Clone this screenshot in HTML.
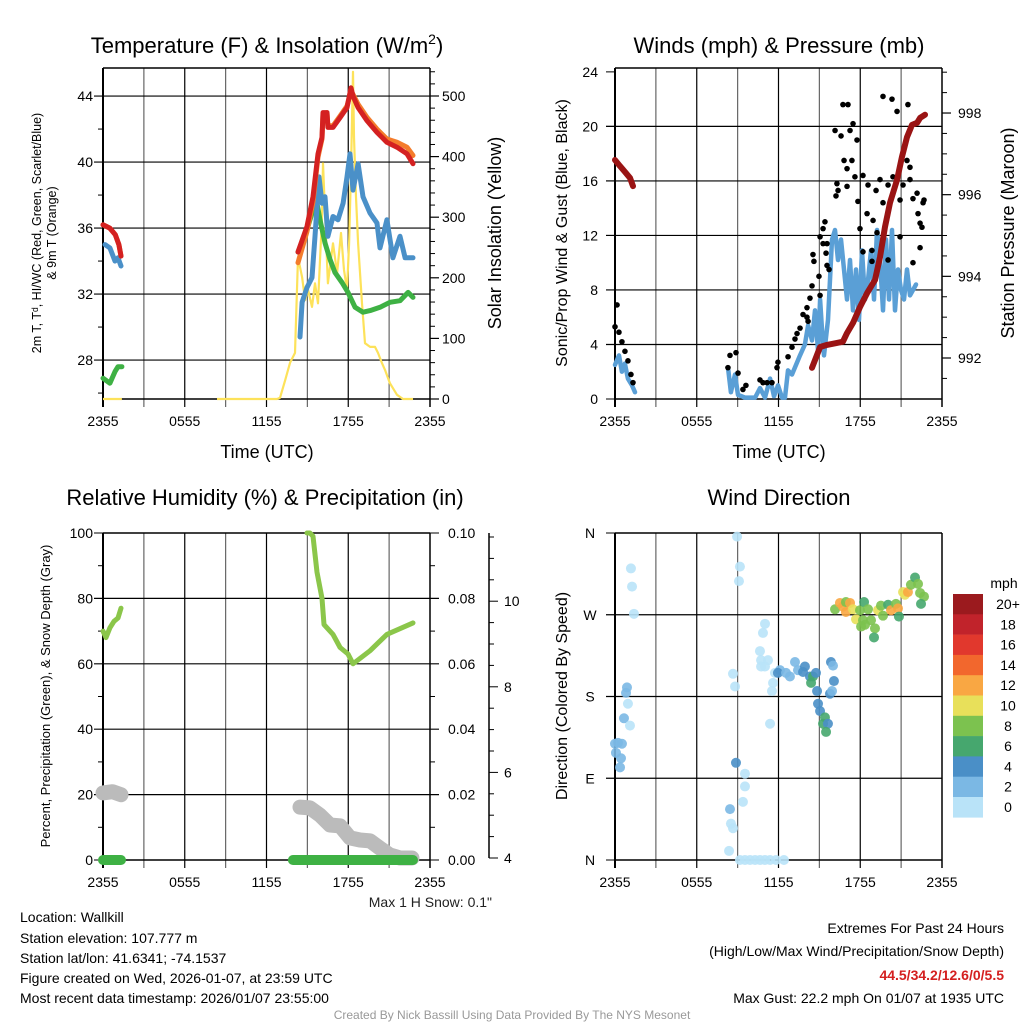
<!DOCTYPE html>
<html><head><meta charset="utf-8"><style>
html,body{margin:0;padding:0;background:#fff;}
svg{display:block;font-family:"Liberation Sans",Arial,sans-serif;}
</style></head><body>
<svg id="chart" width="1024" height="1024" viewBox="0 0 1024 1024" xmlns="http://www.w3.org/2000/svg">
<rect width="1024" height="1024" fill="#fff"/>
<g id="g1"></g>
<g id="g2"></g>
<g id="g3"></g>
<g id="g4"></g>
<g id="gt" font-size="14" fill="#000">
<text x="20" y="922">Location: Wallkill</text>
<text x="20" y="943">Station elevation: 107.777 m</text>
<text x="20" y="963">Station lat/lon: 41.6341; -74.1537</text>
<text x="20" y="983">Figure created on Wed, 2026-01-07, at 23:59 UTC</text>
<text x="20" y="1003">Most recent data timestamp: 2026/01/07 23:55:00</text>
<text x="1004" y="933" text-anchor="end">Extremes For Past 24 Hours</text>
<text x="1004" y="956" text-anchor="end">(High/Low/Max Wind/Precipitation/Snow Depth)</text>
<text x="1004" y="980" text-anchor="end" fill="#d42020" font-weight="bold">44.5/34.2/12.6/0/5.5</text>
<text x="1004" y="1003" text-anchor="end">Max Gust: 22.2 mph On 01/07 at 1935 UTC</text>
<text x="512" y="1019" text-anchor="middle" font-size="12" fill="#999">Created By Nick Bassill Using Data Provided By The NYS Mesonet</text>
<text x="492" y="907" text-anchor="end" font-size="14" fill="#222">Max 1 H Snow: 0.1"</text>
</g>
</svg>
<script>
// ---------- data (hours since 23:55 previous day) ----------
const xTickLabels = ["2355","0555","1155","1755","2355"];
const solarT = [0,1.39,null,8.37,12.77,12.99,13.36,13.73,14.09,14.31,14.61,14.83,15.05,15.34,15.56,15.78,16.07,16.15,16.37,16.51,16.88,17.18,17.47,17.69,17.91,18.06,18.2,18.35,18.42,18.57,18.72,19.01,19.23,19.6,19.96,20.18,20.48,20.7,21.06,21.58,22.02,22.75];
const solarV = [0,0,null,0,0,2,30,60,76,234,201,163,180,152,191,158,300,389,267,191,257,208,274,213,180,257,378,540,432,333,257,158,92,86,86,76,59,48,26,7,0,0];
const tempT = [0,0.5,0.9,1.17,1.32,null,14.31,14.97,15.41,15.78,16.07,16.15,16.44,16.51,16.88,17.4,17.91,18.2,18.35,18.72,19.38,20.11,20.84,21.58,22.31,22.75];
const tempV = [36.2,36.0,35.6,35.0,34.3,null,34.55,36.1,37.9,40.5,41.5,43.0,43.0,42.1,42.1,42.7,43.3,44.5,44.0,43.3,42.5,41.8,41.2,40.9,40.5,39.9];
const temp9V = [36.2,36.0,35.6,35.0,34.3,null,33.9,35.8,37.6,40.3,41.4,42.9,43.0,42.2,42.2,42.8,43.4,44.3,44.1,43.5,42.7,42.0,41.4,41.2,40.9,40.4];
const dewT = [0,0.51,0.88,1.1,1.39,null,14.31,14.97,15.41,15.71,15.93,16.29,16.66,17.03,17.54,17.98,18.5,19.08,19.6,20.33,21.06,21.8,22.39,22.75];
const dewV = [26.9,26.6,27.3,27.6,27.6,null,34.55,35.9,37.1,37.5,36.5,35.1,34.1,33.3,32.7,32.1,31.2,30.9,31.0,31.2,31.5,31.6,32.1,31.8];
const wcT = [0.15,0.51,0.88,1.1,1.32,null,14.46,14.61,14.97,15.34,15.56,15.85,16.07,16.29,16.51,16.88,17.25,17.62,17.91,18.13,18.35,18.72,19.08,19.6,20.11,20.33,20.84,21.28,21.8,22.17,22.75];
const wcV = [35.0,34.8,34.0,34.2,33.7,null,29.4,31.5,32.4,33.0,35.5,39.1,37.5,37.9,35.5,36.7,36.5,37.5,39.1,40.5,38.3,39.9,37.9,36.9,36.3,34.8,36.5,34.2,35.5,34.2,34.2];
const tempTicks = [28,32,36,40,44];
const solarTicks = [0,100,200,300,400,500];

const windT = [0,0.29,0.51,0.73,0.95,1.25,1.47,null,8.29,8.51,8.81,9.03,9.54,10.28,10.64,11.01,11.38,11.67,11.96,12.26,12.48,12.7,12.99,13.58,13.94,14.17,14.46,14.68,14.9,15.05,15.19,15.34,15.63,15.93,16.15,16.37,16.59,16.81,17.03,17.25,17.47,17.69,17.91,18.13,18.35,18.57,18.79,19.01,19.23,19.45,19.67,19.89,20.11,20.33,20.55,20.77,20.99,21.21,21.43,21.65,21.87,22.09];
const windV = [2.5,3.2,2.0,2.6,1.5,1.0,0.5,null,2.3,0.5,1.8,0.3,0.1,0.1,0.8,0.1,1.5,0.2,1.0,0.1,0.1,2.1,1.8,3.2,4.0,5.4,4.3,6.5,3.6,7.3,5.1,3.2,5.8,11.7,12.4,10.2,11.7,9.5,7.3,10.2,6.5,9.5,5.8,10.9,7.3,8.7,10.9,7.3,12.4,10.2,6.5,11.7,7.3,12.4,6.5,9.5,8.0,7.3,9.5,7.6,8.0,8.4];
const gustT = [0,0.15,0.29,0.51,0.73,0.95,1.17,1.32,8.44,8.88,8.29,9.03,9.39,9.61,10.64,10.86,11.16,11.52,11.89,11.96,12.7,12.99,13.21,13.36,13.58,13.8,14.09,14.09,14.17,14.31,14.46,14.53,14.6,14.97,15.05,15.05,15.27,15.27,15.41,15.49,15.56,15.56,15.71,16.15,16.22,16.29,16.37,16.59,16.73,16.81,17.03,17.03,17.1,17.25,17.39,17.47,17.61,17.76,17.83,17.98,18.2,18.2,18.5,18.57,18.86,18.86,18.94,19.16,19.23,19.45,19.67,19.67,20.04,20.04,20.33,20.4,20.7,20.92,20.92,21.14,21.43,21.5,21.65,21.65,21.87,21.87,22.17,22.24,22.39,22.39,22.53,22.61,22.68];
const gustV = [5.3,6.9,4.9,4.2,3.5,2.8,1.8,1.2,3.2,3.4,2.3,1.9,0.7,1.0,1.4,1.2,1.2,1.2,2.3,2.7,3.1,3.8,4.4,4.8,5.2,6.2,6.7,6.0,5.7,7.4,8.3,10.6,10.1,9.0,7.6,11.9,12.5,11.4,13.0,10.7,11.4,9.8,9.5,19.7,14.9,15.8,15.3,19.3,21.6,17.5,16.9,15.6,21.6,19.7,17.5,20.2,16.3,19.0,14.5,12.5,16.4,10.8,13.6,15.7,10.9,10.1,13.1,15.3,12.2,16.1,22.2,14.4,15.7,10.2,22.0,16.3,21.1,14.6,11.9,15.7,17.5,21.6,16.1,17.0,14.7,10.0,15.1,13.6,12.9,11.1,12.6,14.4,14.6];
const presT = [0,0.37,0.73,1.1,1.32,null,14.46,15.05,15.56,16.29,16.73,17.03,17.47,17.98,18.5,19.08,19.45,19.82,20.18,20.7,21.06,21.43,21.8,22.17,22.39,22.75];
const presV = [996.85,996.7,996.56,996.41,996.21,null,991.76,992.27,992.32,992.37,992.4,992.61,992.86,993.25,993.59,993.91,994.47,995.21,995.8,996.36,996.92,997.41,997.71,997.76,997.88,997.96];
const windTicks = [0,4,8,12,16,20,24];
const presTicks = [992,994,996,998];

const rhT = [0,0.22,0.51,0.81,1.1,1.32,null,14.97,15.19,15.41,15.71,16.07,16.22,16.88,17.4,17.98,18.35,19.6,20.84,22.75];
const rhV = [70,68,71,73,74,77,null,100,100,99,88,80,72,69,65,63,60,64,69,72.5];
const snowT = [0,0.7,1.32,null,14.46,15.19,15.93,16.66,17.4,18.13,18.86,19.6,20.33,21.06,21.8,22.68];
const snowV = [5.52,5.55,5.48,null,5.19,5.17,5.0,4.77,4.75,4.47,4.42,4.4,4.23,4.07,4.0,4.0];
const precipT = [0,1.32,null,13.94,22.75];
const precipV = [0,0,null,0,0];
const rhTicks = [0,20,40,60,80,100];
const precipTicks = ["0.00","0.02","0.04","0.06","0.08","0.10"];
const snowTicks = [4,6,8,10];

const dirT = [1.17,1.25,1.39,0.88,0.81,0.95,0.66,1.1,0,0.22,0.51,0.07,0.44,0.37,8.96,9.17,9.1,8.66,8.81,8.88,9.54,9.54,9.39,8.44,8.51,8.66,8.37,9.17,9.54,9.91,10.28,10.64,11.01,11.38,11.82,12.4,11.01,10.86,10.64,10.72,11.23,11.01,10.72,11.74,11.6,11.52,11.38,12.11,11.96,12.55,12.84,13.21,13.43,13.94,13.8,14.31,14.53,14.39,14.75,14.83,15.85,16,16.07,15.78,15.93,14.9,15.05,15.41,15.27,15.63,15.49,16.15,16.51,16.73,16.95,17.25,16.95,17.47,17.69,17.98,18.28,18.2,18.57,18.35,19.08,19.01,18.79,19.3,19.52,19.67,20.04,20.26,20.62,20.77,20.84,21.14,21.28,21.5,21.72,22.02,22.24,22.39,22.68,22.46,18.06];
const dirV = [321,301,271,190,184,172,156,148,128,129,128,118,112,102,356,323,307,205,191,107,95,81,64,56,40,35,10,0,0,0,0,0,0,0,0,0,260,250,230,220,220,213,213,206,195,186,150,209,206,206,202,218,209,213,207,202,202,195,206,186,218,214,197,183,186,172,164,157,150,150,141,276,283,279,284,283,273,276,265,275,284,264,276,259,255,245,264,275,280,269,281,275,282,277,268,295,292,295,303,311,304,294,290,282,257];
const dirS = [0,0,0,2,2,0,2,0,2,2,2,2,2,2,0,0,0,0,0,4,0,0,0,2,0,0,0,0,0,0,0,0,0,0,0,0,0,0,0,0,0,0,0,0,0,0,0,2,4,2,2,2,2,4,4,4,6,6,4,4,4,2,4,4,2,4,4,6,6,4,6,8,12,12,8,12,12,10,10,8,6,8,8,8,8,6,8,10,8,8,6,12,8,12,6,10,10,12,8,6,8,8,8,6,8];
const dirTicks = ["N","E","S","W","N"];
const cbLabels = ["20+","18","16","14","12","10","8","6","4","2","0"];
const cbColors = ["#9b1a1e","#c1232b","#e1382d","#f2672d","#f9a743","#e8e05a","#7cc24f","#46a76e","#4a8fc7","#7bb8e4","#b9e3f8"];

// ---------- helpers ----------
const NS = "http://www.w3.org/2000/svg";
function mk(parent, tag, attrs, name) {
  const el = document.createElementNS(NS, tag);
  for (const k in attrs) el.setAttribute(k, attrs[k]);
  
  
  parent.appendChild(el);
  return el;
}
function txt(parent, x, y, s, size, anchor, name, extra) {
  const t = mk(parent, 'text', Object.assign({x: x, y: y, 'font-size': size, 'text-anchor': anchor || 'start'}, extra || {}), name);
  t.textContent = s;
  return t;
}
const PXH = 327 / 24;
function pathOf(ts, vs, fx, fy) {
  let d = '', pen = false;
  for (let i = 0; i < ts.length; i++) {
    if (ts[i] === null || vs[i] === null) { pen = false; continue; }
    d += (pen ? 'L' : 'M') + fx(ts[i]).toFixed(1) + ',' + fy(vs[i]).toFixed(1);
    pen = true;
  }
  return d;
}
function frame(g, L, R, T, B) {
  for (let h = 3; h < 24; h += 3) {
    const x = L + h * PXH;
    mk(g, 'line', {x1: x, x2: x, y1: T, y2: B + 8, stroke: h % 6 === 0 ? '#000' : '#666', 'stroke-width': 1.2}, 'x-grid-line');
  }
  mk(g, 'line', {x1: L, x2: L, y1: T, y2: B + 8, stroke: '#000', 'stroke-width': 2}, 'left-axis');
  mk(g, 'line', {x1: R, x2: R, y1: T, y2: B + 8, stroke: '#000', 'stroke-width': 1.5}, 'right-axis');
  mk(g, 'line', {x1: L, x2: R, y1: B, y2: B, stroke: '#000', 'stroke-width': 1.5}, 'bottom-axis');
  mk(g, 'line', {x1: L, x2: R, y1: T, y2: T, stroke: '#000', 'stroke-width': 1.5}, 'top-axis');
  xTickLabels.forEach((s, i) => {
    txt(g, L + i * 6 * PXH, B + 27, s, 14, 'middle', 'x-tick-label');
  });
}
function hgrid(g, L, R, y, ext) {
  mk(g, 'line', {x1: L - 9, x2: R + (ext || 0), y1: y, y2: y, stroke: '#000', 'stroke-width': 1.2}, 'y-grid-line');
}
function rotLabel(g, x, y, s, size, name) {
  txt(g, x, y, s, size, 'middle', name, {transform: 'rotate(-90 ' + x + ' ' + y + ')'});
}

// ---------- Panel 1 ----------
(function () {
  const g = document.getElementById('g1');
  const L = 103, R = 430, T = 68, B = 399;
  const X = h => L + h * PXH;
  const YT = v => B - (v - 25.64) * 16.5;
  const YS = v => B - v * 0.606;
  frame(g, L, R, T, B);
  tempTicks.forEach(v => { hgrid(g, L, R, YT(v)); txt(g, 93, YT(v) + 5, String(v), 14, 'end', 'temp-tick-label'); });
  for (let v = 26; v <= 45; v += 2) if (v % 4) mk(g, 'line', {x1: L - 5, x2: L, y1: YT(v), y2: YT(v), stroke: '#000'}, 'temp-minor-tick');
  solarTicks.forEach(v => { mk(g, 'line', {x1: R, x2: R + 9, y1: YS(v), y2: YS(v), stroke: '#000', 'stroke-width': 1.2}, 'solar-tick'); txt(g, 442, YS(v) + 5, String(v), 14, 'start', 'solar-tick-label'); });
  for (let v = 20; v <= 540; v += 20) if (v % 100) mk(g, 'line', {x1: R, x2: R + 5, y1: YS(v), y2: YS(v), stroke: '#000'}, 'solar-minor-tick');
  mk(g, 'path', {d: pathOf(solarT, solarV, X, YS), fill: 'none', stroke: '#fde25a', 'stroke-width': 2.2, 'stroke-linejoin': 'round'}, 'solar-line');
  mk(g, 'path', {d: pathOf(dewT, dewV, X, YT), fill: 'none', stroke: '#3eb144', 'stroke-width': 5, 'stroke-linejoin': 'round', 'stroke-linecap': 'round'}, 'dewpoint-line');
  mk(g, 'path', {d: pathOf(wcT, wcV, X, YT), fill: 'none', stroke: '#4a90c8', 'stroke-width': 5, 'stroke-linejoin': 'round', 'stroke-linecap': 'round'}, 'windchill-line');
  mk(g, 'path', {d: pathOf(tempT, temp9V, X, YT), fill: 'none', stroke: '#f47c2c', 'stroke-width': 5, 'stroke-linejoin': 'round', 'stroke-linecap': 'round'}, 'temp-9m-line');
  mk(g, 'path', {d: pathOf(tempT, tempV, X, YT), fill: 'none', stroke: '#d42121', 'stroke-width': 5, 'stroke-linejoin': 'round', 'stroke-linecap': 'round'}, 'temp-2m-line');
  txt(g, 267, 53, 'Temperature (F) & Insolation (W/m', 22, 'middle', 'chart-title').innerHTML = 'Temperature (F) &amp; Insolation (W/m<tspan font-size="14" dy="-9">2</tspan><tspan dy="9">)</tspan>';
  txt(g, 267, 458, 'Time (UTC)', 18, 'middle', 'x-axis-title');
  rotLabel(g, 41, 233, '2m T, T\u1d48, HI/WC (Red, Green, Scarlet/Blue)', 12.5, 'y-axis-title-left');
  rotLabel(g, 56, 233, '& 9m T (Orange)', 12.5, 'y-axis-title-left-2');
  rotLabel(g, 501, 233, 'Solar Insolation (Yellow)', 18, 'y-axis-title-right');
})();

// ---------- Panel 2 ----------
(function () {
  const g = document.getElementById('g2');
  const L = 615, R = 942, T = 68, B = 399;
  const X = h => L + h * PXH;
  const YW = v => B - v * 13.63;
  const YP = v => 358 - (v - 992) * 40.83;
  frame(g, L, R, T, B);
  windTicks.forEach(v => { if (v > 0 && v < 24) hgrid(g, L, R, YW(v)); mk(g, 'line', {x1: L - 9, x2: L, y1: YW(v), y2: YW(v), stroke: '#000'}, 'wind-tick'); txt(g, 598, YW(v) + 5, String(v), 14, 'end', 'wind-tick-label'); });
  presTicks.forEach(v => { mk(g, 'line', {x1: R, x2: R + 9, y1: YP(v), y2: YP(v), stroke: '#000', 'stroke-width': 1.2}, 'pressure-tick'); txt(g, 958, YP(v) + 5, String(v), 14, 'start', 'pressure-tick-label'); });
  for (let v = 991.5; v <= 999; v += 0.5) if (v % 2) mk(g, 'line', {x1: R, x2: R + 5, y1: YP(v), y2: YP(v), stroke: '#000'}, 'pressure-minor-tick');
  mk(g, 'path', {d: pathOf(windT, windV, X, YW), fill: 'none', stroke: '#5a9fd6', 'stroke-width': 4.5, 'stroke-linejoin': 'round', 'stroke-linecap': 'round'}, 'wind-speed-line');
  gustT.forEach((t, i) => {
    mk(g, 'circle', {cx: X(t), cy: YW(gustV[i]), r: 2.8, fill: '#000'}, 'gust-point');
  });
  mk(g, 'path', {d: pathOf(presT, presV, X, YP), fill: 'none', stroke: '#9a1414', 'stroke-width': 6, 'stroke-linejoin': 'round', 'stroke-linecap': 'round'}, 'pressure-line');
  txt(g, 779, 53, 'Winds (mph) & Pressure (mb)', 22, 'middle', 'chart-title');
  txt(g, 779, 458, 'Time (UTC)', 18, 'middle', 'x-axis-title');
  rotLabel(g, 567, 233, 'Sonic/Prop Wind & Gust (Blue, Black)', 16, 'y-axis-title-left');
  rotLabel(g, 1014, 233, 'Station Pressure (Maroon)', 18, 'y-axis-title-right');
})();

// ---------- Panel 3 ----------
(function () {
  const g = document.getElementById('g3');
  const L = 103, R = 430, T = 533, B = 860;
  const X = h => L + h * PXH;
  const YR = v => B - v * 3.27;
  const YN = v => 858 - (v - 4) * 42.8;
  frame(g, L, R, T, B);
  rhTicks.forEach((v, i) => {
    if (v > 0 && v < 100) hgrid(g, L, R, YR(v), 9); else { mk(g, 'line', {x1: L - 9, x2: L, y1: YR(v), y2: YR(v), stroke: '#000'}, 'rh-tick'); mk(g, 'line', {x1: R, x2: R + 9, y1: YR(v), y2: YR(v), stroke: '#000'}, 'precip-tick'); }
    txt(g, 93, YR(v) + 5, String(v), 14, 'end', 'rh-tick-label');
    txt(g, 448, YR(v) + 5, precipTicks[i], 14, 'start', 'precip-tick-label');
  });
  for (let v = 10; v < 100; v += 20) { mk(g, 'line', {x1: L - 5, x2: L, y1: YR(v), y2: YR(v), stroke: '#000'}, 'rh-minor-tick'); mk(g, 'line', {x1: R, x2: R + 5, y1: YR(v), y2: YR(v), stroke: '#000'}, 'precip-minor-tick'); }
  mk(g, 'line', {x1: 489, x2: 489, y1: T, y2: 858, stroke: '#000', 'stroke-width': 1.5}, 'snow-axis');
  snowTicks.forEach(v => { mk(g, 'line', {x1: 489, x2: 498, y1: YN(v), y2: YN(v), stroke: '#000'}, 'snow-tick'); txt(g, 504, YN(v) + 5, String(v), 14, 'start', 'snow-tick-label'); });
  for (let v = 4.5; v < 11.6; v += 0.5) if (v % 2) mk(g, 'line', {x1: 489, x2: 494, y1: YN(v), y2: YN(v), stroke: '#000'}, 'snow-minor-tick');
  mk(g, 'path', {d: pathOf(snowT, snowV, X, YN), fill: 'none', stroke: '#bbbbbb', 'stroke-width': 15, 'stroke-linejoin': 'round', 'stroke-linecap': 'round'}, 'snow-depth-line');
  mk(g, 'path', {d: pathOf(precipT, precipV, X, v => B - v * 3270), fill: 'none', stroke: '#3eb144', 'stroke-width': 10, 'stroke-linecap': 'round'}, 'precip-line');
  mk(g, 'path', {d: pathOf(rhT, rhV, X, YR), fill: 'none', stroke: '#8bc64a', 'stroke-width': 5, 'stroke-linejoin': 'round', 'stroke-linecap': 'round'}, 'rh-line');
  txt(g, 265, 505, 'Relative Humidity (%) & Precipitation (in)', 22, 'middle', 'chart-title');
  rotLabel(g, 50, 696, 'Percent, Precipitation (Green), & Snow Depth (Gray)', 13, 'y-axis-title-left');
})();

// ---------- Panel 4 ----------
(function () {
  const g = document.getElementById('g4');
  const L = 615, R = 942, T = 533, B = 860;
  const X = h => L + h * PXH;
  const YD = d => B - d * 327 / 360;
  frame(g, L, R, T, B);
  dirTicks.forEach((s, i) => {
    const y = YD(i * 90);
    if (i > 0 && i < 4) hgrid(g, L, R, y); else mk(g, 'line', {x1: L - 9, x2: L, y1: y, y2: y, stroke: '#000'}, 'dir-tick');
    txt(g, 590, y + 5, s, 14, 'middle', 'dir-tick-label');
  });
  dirT.forEach((t, i) => {
    const c = cbColors[10 - Math.min(10, Math.floor(dirS[i] / 2))];
    mk(g, 'circle', {cx: X(t), cy: YD(dirV[i]), r: 5, fill: c, 'fill-opacity': 0.9}, 'direction-point');
  });
  txt(g, 779, 505, 'Wind Direction', 22, 'middle', 'chart-title');
  rotLabel(g, 567, 696, 'Direction (Colored By Speed)', 16, 'y-axis-title-left');
  txt(g, 1004, 588, 'mph', 14, 'middle', 'colorbar-title');
  cbColors.forEach((c, i) => {
    mk(g, 'rect', {x: 953, y: 594 + i * 20.3, width: 30, height: 20.6, fill: c}, 'colorbar-swatch');
    txt(g, 1008, 609 + i * 20.3, cbLabels[i], 14, 'middle', 'colorbar-label');
  });
})();
</script>
</body></html>
